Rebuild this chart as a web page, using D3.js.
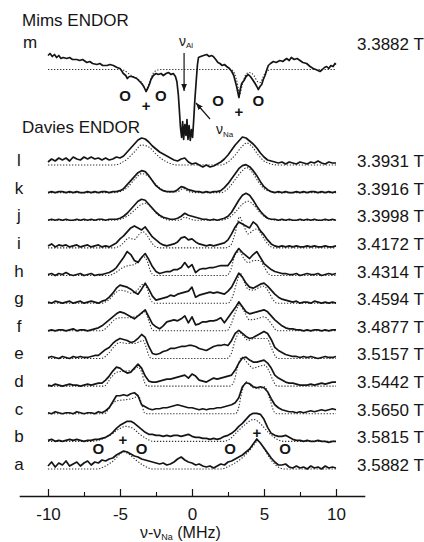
<!DOCTYPE html>
<html>
<head>
<meta charset="utf-8">
<script src="https://cdn.jsdelivr.net/npm/d3@7"></script>
<style>
  body { margin: 0; background: #fff; }
  svg { display: block; font-family: "Liberation Sans", Arial, sans-serif; }
</style>
</head>
<body>
<div id="chart"></div>
<script>
// abscissa of the Davies spectra, nu - nu_Na in MHz, 0.25 MHz steps
const freqGrid = d3.range(81).map(i => -10 + i * 0.25);

const traceIds = ["l", "k", "j", "i", "h", "g", "f", "e", "d", "c", "b", "a"];
const fieldLabels = ["3.3931 T", "3.3916 T", "3.3998 T", "3.4172 T", "3.4314 T", "3.4594 T",
  "3.4877 T", "3.5157 T", "3.5442 T", "3.5650 T", "3.5815 T", "3.5882 T"];
const mimsField = "3.3882 T";
const xTicks = [-10, -5, 0, 5, 10];
const xMinorTicks = [-7.5, -2.5, 2.5, 7.5];

const expL = [3,6,4,7, 5,7,4,8, 6,5,8,6, 8,6,7,5, 7,5,6,8, 7,9,13,17, 21,25,27,26, 23,19,16,13, 11,9,7,5, 4,6,7,3, 1,2,0,-2, 0,-2,-1,1, 3,6,10,15, 20,24,28,27, 24,21,17,12, 8,5,4,3, 2,3,1,3, 2,1,3,2, 1,3,2,4, 2,1,3,2, 2];
const expK = [0,1,0,1, 1,0,1,0, 1,0,0,1, 0,1,0,1, 1,0,1,1, 2,4,8,12, 16,20,22,21, 17,12,7,4, 2,1,1,1, 3,6,5,3, 2,1,1,0, 1,0,1,1, 2,5,9,14, 19,24,27,28, 26,22,17,11, 6,3,1,0, 1,0,1,0, 0,1,0,1, 0,1,1,0, 1,0,1,0, 1];
const expJ = [0,1,0,1, 0,1,0,0, 1,0,1,0, 1,0,1,1, 0,1,1,1, 2,4,7,11, 15,19,21,20, 16,12,8,5, 3,2,1,1, 2,4,7,5, 4,3,2,1, 1,0,1,0, 1,2,4,8, 14,20,25,27, 25,20,14,9, 5,2,1,1, 0,1,0,1, 0,0,1,0, 1,0,1,0, 0,1,0,1, 0];
const expI = [2,4,1,3, 2,3,1,2, 3,1,2,3, 1,2,3,1, 2,1,3,5, 9,12,16,20, 22,20,18,21, 16,11,8,5, 3,2,3,4, 6,10,11,8, 9,6,4,3, 2,3,2,3, 4,5,8,14, 21,26,24,22, 20,26,23,17, 13,8,4,2, 1,2,1,2, 1,2,1,1, 2,1,2,1, 1,2,1,1, 2];
const expH = [1,2,0,2, 1,3,1,0, 1,2,0,1, 2,0,1,1, 2,3,5,8, 13,18,24,21, 15,13,18,22, 16,9,4,2, 3,4,4,6, 6,8,13,8, 11,3,6,7, 7,8,8,9, 10,10,10,15, 22,27,23,20, 17,21,24,18, 12,9,6,4, 3,2,2,1, 1,2,0,1, 2,1,1,2, 0,1,2,1, 2];
const expG = [1,0,2,1, 0,1,2,0, 1,2,0,1, 2,1,0,2, 3,6,10,15, 18,17,16,14, 11,9,14,20, 14,7,3,4, 5,6,8,7, 9,10,11,12, 16,6,8,9, 10,11,10,11, 10,9,12,16, 23,30,26,20, 16,15,17,19, 20,17,13,9, 6,4,3,2, 1,2,0,1, 1,0,2,1, 0,1,0,1, 0];
const expF = [0,1,0,1, 1,0,1,2, 0,1,1,0, 1,2,3,5, 8,11,14,17, 19,18,16,14, 12,15,18,21, 14,7,4,2, 5,9,10,11, 10,12,15,8, 14,6,7,9, 9,10,10,11, 13,8,13,18, 23,29,24,19, 17,18,19,20, 21,19,15,11, 8,5,3,2, 2,1,1,0, 1,0,1,1, 0,1,0,1, 1];
const expE = [1,2,1,0, 2,1,0,2, 1,2,1,1, 2,3,3,6, 9,11,15,18, 20,19,18,16, 17,20,24,21, 12,5,4,5, 7,8,10,10, 11,12,12,13, 13,12,10,9, 8,10,12,13, 13,14,13,18, 25,28,25,22, 20,21,23,25, 27,25,19,11, 8,6,4,3, 2,2,1,2, 1,2,1,0, 1,2,1,1, 2];
const expD = [1,0,2,1, 0,1,2,1, 1,0,1,2, 1,2,3,3, 6,10,15,19, 18,15,13,14, 18,22,18,10, 5,4,4,5, 6,7,7,8, 9,10,11,8, 12,10,6,5, 4,6,8,7, 8,9,10,11, 16,23,28,29, 26,24,24,25, 26,23,18,11, 8,6,4,3, 3,2,1,1, 1,2,1,2, 3,2,3,4, 4];
const expC = [1,0,2,1, 0,1,1,0, 2,1,0,1, 1,0,2,1, 3,6,12,18, 18,19,18,20, 21,18,9,7, 5,4,5,5, 6,6,7,8, 9,8,7,6, 6,5,4,5, 4,5,5,6, 6,7,8,9, 11,16,27,31, 30,27,26,27, 26,22,15,9, 6,4,3,2, 2,1,2,1, 2,3,2,3, 4,3,4,5, 4];
const expB = [1,2,0,1, 0,1,2,1, 2,1,0,1, 1,2,2,3, 4,6,9,13, 16,18,20,20, 18,15,12,9, 7,7,6,6, 5,6,5,6, 6,5,6,7, 5,4,4,3, 3,2,3,2, 3,5,6,8, 11,15,18,22, 26,28,28,27, 22,14,8,6, 5,5,6,4, 2,1,1,0, 1,0,0,1, 0,0,-1,0, 0];
const expA = [3,7,2,6, 4,8,3,5, 7,3,6,8, 4,7,6,9, 8,10,11,14, 16,18,17,15, 13,12,10,9, 8,7,6,5, 6,4,5,7, 10,12,9,7, 6,4,5,3, 2,3,1,3, 5,4,7,8, 10,12,14,17, 20,25,30,26, 21,16,11,7, 4,4,5,2, 1,3,1,2, 0,3,1,2, 0,3,1,2, 1];

// simulated spectra (dotted), [MHz, intensity]
const simL = [[-10,0],[-5.5,0],[-5,1.5],[-4.5,6],[-4,13],[-3.5,20],[-3,18],[-2.5,11],[-2,5],[-1.5,1.5],[-1,0],[2,0],[2.5,3],[3,10],[3.5,19],[3.8,22],[4.2,18],[4.6,10],[5,4],[5.5,1],[6,0],[10,0]];
const simK = [[-10,0],[-5.5,0],[-5,1],[-4.5,5],[-4,13],[-3.5,19],[-3,16],[-2.5,8],[-2,2.5],[-1.5,0.5],[-1,1],[-0.6,4],[-0.2,1],[0.3,0],[2,0],[2.5,4],[3,13],[3.5,22],[3.8,25],[4.2,20],[4.6,11],[5,4],[5.5,1],[6,0],[10,0]];
const simJ = [[-10,0],[-5.5,0],[-5,1],[-4.5,4],[-4,10],[-3.5,16],[-3.2,17],[-2.8,12],[-2.4,6],[-2,2],[-1.5,0],[-0.9,0],[-0.5,3],[-0.1,1],[0.3,0],[2,0],[2.5,2],[3,8],[3.5,16],[3.9,19],[4.3,15],[4.7,8],[5.1,3],[5.6,0.5],[6,0],[10,0]];
const simI = [[-10,0],[-5.5,0],[-5,2],[-4.7,6],[-4.4,10],[-4,8.5],[-3.7,13],[-3.4,16],[-3.1,12],[-2.8,5],[-2.5,1],[-2.2,0],[2.3,0],[2.7,3],[3,15],[3.3,31],[3.6,22],[3.9,14],[4.2,17],[4.5,19],[4.8,14],[5.1,7],[5.4,2],[5.7,0],[10,0]];
const simH = [[-10,0],[-5.8,0],[-5.3,3],[-4.8,8],[-4.4,10],[-4,11],[-3.7,15],[-3.4,19],[-3.1,14],[-2.9,5],[-2.6,0],[2.4,0],[2.7,6],[3,21],[3.3,24],[3.6,17],[3.9,13],[4.3,15],[4.7,15],[5,9],[5.3,2],[5.6,0],[10,0]];
const simG = [[-10,0],[-6.3,0],[-5.8,3],[-5.4,9],[-5,13],[-4.6,12],[-4.2,10],[-3.8,13],[-3.4,19],[-3.1,14],[-2.9,4],[-2.6,0],[2.5,0],[2.8,6],[3.1,20],[3.35,30],[3.6,22],[3.9,14],[4.3,13],[4.7,16],[5,17],[5.3,12],[5.6,4],[5.9,0],[10,0]];
const simF = [[-10,0],[-6.3,0],[-5.8,5],[-5.4,11],[-5,13],[-4.5,13],[-4,14],[-3.6,16],[-3.3,19],[-3,10],[-2.8,2],[-2.6,0],[2.4,0],[2.7,6],[3,18],[3.3,26],[3.6,20],[4,11],[4.5,12],[5,14],[5.3,11],[5.6,5],[5.9,0],[10,0]];
const simE = [[-10,0],[-6.3,0],[-5.8,5],[-5.4,12],[-5,16],[-4.5,15],[-4,15],[-3.6,17],[-3.4,18],[-3.2,12],[-3,3],[-2.8,0],[2.4,0],[2.7,4],[3,18],[3.3,26],[3.6,22],[3.9,18],[4.3,20],[4.8,20],[5.2,20],[5.5,11],[5.8,2],[6,0],[10,0]];
const simD = [[-10,0],[-6.1,0],[-5.6,9],[-5.2,14],[-4.6,15],[-4.1,16],[-3.75,19],[-3.5,14],[-3.3,4],[-3.1,0],[2.6,0],[2.9,4],[3.15,18],[3.45,29],[3.8,24],[4.25,18],[4.7,20],[5.05,21],[5.35,15],[5.65,5],[5.9,0],[10,0]];
const simC = [[-10,0],[-6.1,0],[-5.6,9],[-5.2,13],[-4.6,14],[-4,16],[-3.73,18],[-3.5,10],[-3.3,1],[-3.1,0],[3,0],[3.2,4],[3.45,21],[3.8,32],[4.25,26],[4.7,25],[5.05,27],[5.4,15],[5.7,2],[5.9,0],[10,0]];
const simB = [[-10,0],[-7,0],[-6.3,2],[-5.7,6],[-5.1,12],[-4.6,15],[-4.1,13],[-3.7,8],[-3.2,3],[-2.7,0],[2.2,0],[2.6,2],[3.1,9],[3.7,17],[4.3,22],[4.8,17],[5.3,9],[5.8,3],[6.4,0],[10,0]];
const simA = [[-10,0],[-6.6,0],[-6,3],[-5.4,9],[-5,15],[-4.75,17],[-4.4,15],[-3.9,9],[-3.3,3],[-2.7,0],[2,0],[2.6,3],[3.3,9],[3.9,17],[4.3,24],[4.55,28],[4.85,24],[5.3,13],[5.8,4],[6.4,0],[10,0]];

// Mims ENDOR trace m, [MHz, intensity]
const expM = [[-10,14],[-9.86,16],[-9.7,13],[-9.55,15],[-9.4,12],[-9.25,14],[-9.1,11],[-8.95,12],[-8.7,11],[-8.5,12],[-8.3,10],[-8,10],[-7.8,9],[-7.6,10],[-7.3,7],[-7.1,8],[-6.9,6],[-6.6,5],[-6.4,6],[-6.2,4],[-5.9,4],[-5.7,5],[-5.46,4],[-5.2,2],[-5,1],[-4.9,-1],[-4.77,-4],[-4.6,-6],[-4.49,-9],[-4.35,-7],[-4.19,-7],[-4,-8],[-3.84,-9],[-3.7,-11],[-3.5,-14],[-3.35,-17],[-3.19,-22],[-3.05,-18],[-2.96,-15],[-2.85,-10],[-2.69,-6],[-2.5,-4],[-2.34,-5],[-2.15,-4],[-1.99,-6],[-1.8,-4],[-1.64,-3],[-1.45,-5],[-1.3,-4],[-1.15,-7],[-1.05,-12],[-0.95,-25],[-0.88,-40],[-0.8,-58],[-0.72,-68],[-0.65,-52],[-0.58,-70],[-0.5,-55],[-0.42,-66],[-0.35,-50],[-0.28,-70],[-0.2,-56],[-0.12,-71],[-0.04,-60],[0.04,-68],[0.12,-50],[0.2,-30],[0.3,-10],[0.38,5],[0.45,12],[0.6,13],[0.8,14],[1.02,15],[1.2,13],[1.35,14],[1.48,13],[1.65,10],[1.8,7],[1.94,6],[2.1,4],[2.25,5],[2.41,3],[2.6,1],[2.76,-2],[2.9,-6],[2.99,-11],[3.1,-17],[3.2,-24],[3.26,-28],[3.35,-20],[3.45,-14],[3.61,-11],[3.75,-7],[3.91,-5],[4.05,-7],[4.2,-10],[4.38,-14],[4.5,-17],[4.6,-20],[4.72,-17],[4.84,-15],[4.95,-10],[5.07,-6],[5.2,0],[5.3,4],[5.45,6],[5.65,8],[5.85,7],[6.1,9],[6.3,8],[6.57,11],[6.75,9],[6.9,12],[7.1,10],[7.3,11],[7.5,9],[7.7,7],[7.96,6],[8.2,3],[8.42,1],[8.6,0],[8.89,-2],[9.05,0],[9.2,2],[9.35,3],[9.5,1],[9.65,4],[9.8,3],[9.93,6],[10,5]];
const simM = [[-10,0],[-5,0],[-4.7,-1],[-4.4,-4],[-4.1,-7],[-3.8,-9],[-3.5,-13],[-3.2,-20],[-2.95,-13],[-2.7,-4],[-2.4,-0.5],[-2.2,0],[2.7,0],[2.95,-4],[3.15,-14],[3.3,-25],[3.5,-15],[3.75,-5],[4,-3],[4.3,-6],[4.55,-12],[4.75,-13],[4.95,-7],[5.2,-1.5],[5.5,0],[10,0]];

// site markers (O and +), frequency in MHz
const mimsMarks = [["O", -4.65], ["+", -3.19], ["O", -2.17], ["O", 1.81], ["+", 3.26], ["O", 4.6]];
const bottomMarks = [["O", -6.5], ["+", -4.8], ["O", -3.5], ["O", 2.64], ["+", 4.5], ["O", 6.46]];

const expData = [expL, expK, expJ, expI, expH, expG, expF, expE, expD, expC, expB, expA];
const simData = [simL, simK, simJ, simI, simH, simG, simF, simE, simD, simC, simB, simA];

const width = 424, height = 542;
const ink = "#151515";

const svg = d3.select("#chart").append("svg")
  .attr("width", width)
  .attr("height", height);
svg.append("rect").attr("width", width).attr("height", height).attr("fill", "#fff");

const defs = svg.append("defs");
defs.append("marker")
  .attr("id", "head")
  .attr("viewBox", "0 0 10 10")
  .attr("refX", 10).attr("refY", 5)
  .attr("markerWidth", 7).attr("markerHeight", 7)
  .attr("markerUnits", "userSpaceOnUse")
  .attr("orient", "auto")
  .append("path").attr("d", "M0,1L10,5L0,9z").attr("fill", ink);

const x = d3.scaleLinear().domain([-12, 12]).range([19.2, 364.8]);
const base = d3.scalePoint().domain(traceIds).range([165, 469]);
const amp = d3.scaleLinear().domain([0, 10]).range([0, -10]);
const mimsBase = 69.5;

const line = (y0, curve) => d3.line()
  .x(d => x(d[0]))
  .y(d => y0 + amp(d[1]))
  .curve(curve);

function drawSim(y0, data) {
  svg.append("path")
    .attr("d", line(y0, d3.curveMonotoneX)(data))
    .attr("fill", "none")
    .attr("stroke", "#333")
    .attr("stroke-width", 1.1)
    .attr("stroke-dasharray", "1.3,1.7");
}
function drawExp(y0, data) {
  svg.append("path")
    .attr("d", line(y0, d3.curveLinear)(data))
    .attr("fill", "none")
    .attr("stroke", ink)
    .attr("stroke-width", 1.7)
    .attr("stroke-linejoin", "round");
}

const davies = traceIds.map((id, i) => ({
  id, field: fieldLabels[i], exp: expData[i], sim: simData[i]
}));

davies.forEach(t => {
  const y0 = base(t.id);
  drawSim(y0, t.sim);
  drawExp(y0, freqGrid.map((f, i) => [f, t.exp[i]]));
  svg.append("text").attr("x", 19).attr("y", y0 + 1)
    .attr("text-anchor", "middle").attr("font-size", 17).attr("fill", ink)
    .text(t.id);
  svg.append("text").attr("x", 357).attr("y", y0 + 2)
    .attr("font-size", 17).attr("fill", ink)
    .text(t.field);
});

// Mims trace
drawSim(mimsBase, simM);
drawExp(mimsBase, expM);
svg.append("text").attr("x", 23).attr("y", 48).attr("font-size", 17).attr("fill", ink).text("m");
svg.append("text").attr("x", 357).attr("y", 50).attr("font-size", 17).attr("fill", ink).text(mimsField);

svg.append("text").attr("x", 22).attr("y", 26).attr("font-size", 17).attr("fill", ink).text("Mims ENDOR");
svg.append("text").attr("x", 22).attr("y", 133).attr("font-size", 17).attr("fill", ink).text("Davies ENDOR");

// O / + markers
const mimsMarkY = [95, 105, 95, 100, 111, 100];
mimsMarks.forEach((m, i) => {
  svg.append("text").attr("x", x(m[1])).attr("y", mimsMarkY[i])
    .attr("text-anchor", "middle").attr("dominant-baseline", "central")
    .attr("font-size", 15).attr("font-weight", "bold").attr("fill", ink)
    .text(m[0]);
});
bottomMarks.forEach(m => {
  const yy = m[0] === "O" ? 448.5 : (m[1] < 0 ? 439.5 : 432);
  svg.append("text").attr("x", x(m[1])).attr("y", yy)
    .attr("text-anchor", "middle").attr("dominant-baseline", "central")
    .attr("font-size", 15).attr("font-weight", "bold").attr("fill", ink)
    .text(m[0]);
});

// nu_Al and nu_Na arrows
svg.append("line")
  .attr("x1", x(-0.55)).attr("x2", x(-0.55)).attr("y1", 53).attr("y2", 91)
  .attr("stroke", ink).attr("stroke-width", 1.2).attr("marker-end", "url(#head)");
svg.append("line")
  .attr("x1", x(1.25)).attr("x2", x(0.28)).attr("y1", 119).attr("y2", 103)
  .attr("stroke", ink).attr("stroke-width", 1.2).attr("marker-end", "url(#head)");

const nuAl = svg.append("text").attr("x", 179).attr("y", 46).attr("font-size", 14).attr("fill", ink);
nuAl.append("tspan").text("ν");
nuAl.append("tspan").attr("font-size", 8).attr("dy", 2).text("Al");
const nuNa = svg.append("text").attr("x", 216).attr("y", 134).attr("font-size", 14).attr("fill", ink);
nuNa.append("tspan").text("ν");
nuNa.append("tspan").attr("font-size", 8).attr("dy", 3).text("Na");

// x axis, ticks pointing up
const axisY = 496;
const gx = svg.append("g").attr("transform", `translate(0,${axisY})`)
  .call(d3.axisBottom(x).tickValues(xTicks).tickSizeInner(-7).tickSizeOuter(0)
    .tickPadding(12).tickFormat(d => String(d)));
gx.select(".domain").attr("stroke", ink).attr("stroke-width", 1.3);
gx.selectAll(".tick line").attr("stroke", ink).attr("stroke-width", 1.2);
gx.selectAll(".tick text").attr("font-size", 17).attr("fill", ink)
  .attr("font-family", "Liberation Sans, Arial, sans-serif");

const gm = svg.append("g").attr("transform", `translate(0,${axisY})`)
  .call(d3.axisBottom(x).tickValues(xMinorTicks).tickSizeInner(-4).tickSizeOuter(0).tickFormat(""));
gm.select(".domain").remove();
gm.selectAll(".tick line").attr("stroke", ink).attr("stroke-width", 1.1);

const xl = svg.append("text").attr("x", 140).attr("y", 538).attr("font-size", 16).attr("fill", ink);
xl.append("tspan").text("ν-ν");
xl.append("tspan").attr("font-size", 9).attr("dy", 2).text("Na");
xl.append("tspan").attr("dy", -2).text(" (MHz)");
</script>
</body>
</html>
